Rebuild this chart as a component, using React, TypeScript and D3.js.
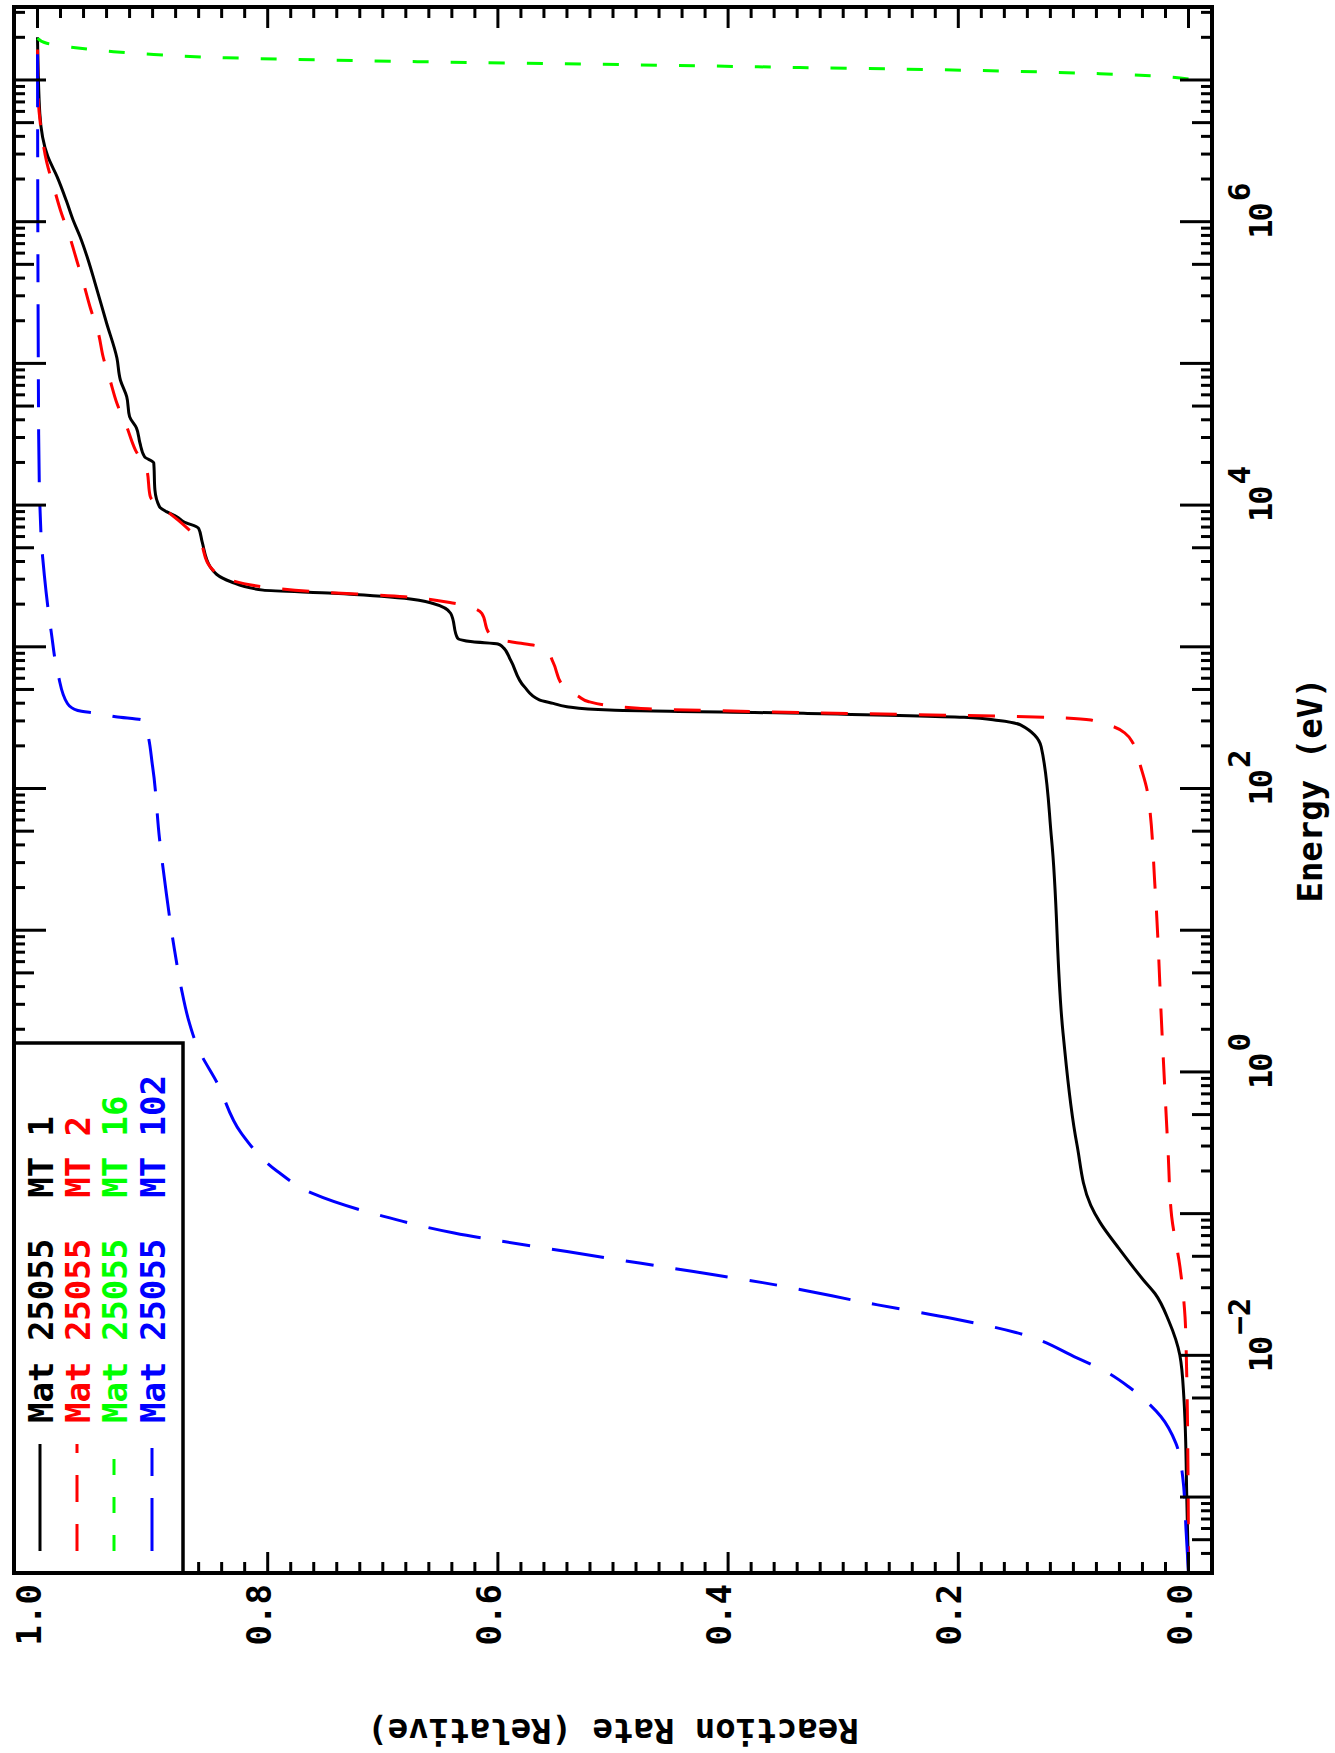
import React from "react";
import * as d3 from "d3";

// ---------- data (energy in eV, cumulative relative reaction rate) ----------
const mt1Energy = [2.9e-4, 1.0e-3, 3.4e-3, 5.0e-3, 1.0e-2, 1.74e-2, 2.72e-2, 3.39e-2, 5.62e-2, 8.71e-2, 0.115, 0.31, 1.88, 44.3, 197, 281, 302, 318, 339, 358, 378, 399, 422, 522, 807, 1000, 1047, 1084, 1148, 1722, 2028, 2198, 2388, 2512, 2877, 3673, 5521, 6855, 7638, 8279, 8995, 9750, 12790, 19820, 21930, 27420, 34990, 42070, 58210, 76380, 109100, 192800, 369000, 537000, 783000, 1.023e6, 1.41e6, 2.08e6, 2.88e6, 5.82e6, 2.0e7];
const mt1Rate = [0, 0.0015, 0.003, 0.004, 0.0075, 0.017, 0.029, 0.039, 0.06, 0.077, 0.085, 0.097, 0.109, 0.119, 0.128, 0.146, 0.165, 0.195, 0.331, 0.503, 0.54, 0.552, 0.564, 0.577, 0.589, 0.596, 0.6, 0.622, 0.635, 0.641, 0.657, 0.681, 0.743, 0.804, 0.832, 0.85, 0.857, 0.86, 0.873, 0.879, 0.888, 0.894, 0.898, 0.899, 0.907, 0.911, 0.914, 0.92, 0.9225, 0.928, 0.931, 0.94, 0.95, 0.956, 0.963, 0.969, 0.975, 0.983, 0.991, 0.998, 1.0];

const mt2Energy = [2.9e-4, 1.38e-3, 8.3e-3, 1.86e-2, 4.2e-2, 9.5e-2, 0.28, 1.88, 19.6, 92.7, 143, 208, 245, 273, 294, 304, 318, 343, 368, 410, 447, 525, 776, 955, 1023, 1072, 1148, 1259, 1722, 2028, 2254, 2455, 2951, 3673, 5675, 7482, 8995, 11480, 17700, 24550, 35730, 52240, 76380, 111400, 162200, 244900, 367300, 537000, 783000, 1.2e6, 1.77e6, 2.63e6, 3.98e6, 7.94e6, 2.0e7];
const mt2Rate = [0, 0.0004, 0.0017, 0.003, 0.0074, 0.0146, 0.0178, 0.023, 0.029, 0.0355, 0.0416, 0.048, 0.055, 0.065, 0.0786, 0.0847, 0.1216, 0.331, 0.478, 0.521, 0.53, 0.543, 0.552, 0.558, 0.568, 0.585, 0.603, 0.608, 0.614, 0.638, 0.681, 0.761, 0.832, 0.85, 0.86, 0.875, 0.887, 0.902, 0.905, 0.915, 0.9225, 0.931, 0.937, 0.943, 0.947, 0.954, 0.96, 0.966, 0.972, 0.98, 0.986, 0.992, 0.996, 0.9995, 1.0];

const mt16Energy = [1.016e7, 1.072e7, 1.107e7, 1.159e7, 1.225e7, 1.291e7, 1.346e7, 1.435e7, 1.514e7, 1.585e7, 1.675e7, 1.816e7, 1.968e7];
const mt16Rate = [0, 0.033, 0.077, 0.164, 0.338, 0.511, 0.67, 0.836, 0.899, 0.934, 0.963, 0.992, 1.0];

const mt102Energy = [2.9e-4, 5.6e-4, 1.38e-3, 2.4e-3, 3.7e-3, 4.6e-3, 6.0e-3, 7.6e-3, 9.6e-3, 1.45e-2, 1.82e-2, 2.27e-2, 3.26e-2, 3.9e-2, 5.4e-2, 7.3e-2, 9.6e-2, 0.139, 0.2, 0.37, 0.84, 1.44, 2.36, 3.87, 7.28, 18.0, 44.3, 143, 269, 304, 321, 339, 355, 398, 631, 1259, 3162, 6310, 31620, 2.0e7];
const mt102Rate = [0, 0.002, 0.005, 0.011, 0.024, 0.035, 0.052, 0.071, 0.097, 0.15, 0.205, 0.27, 0.37, 0.43, 0.54, 0.638, 0.7, 0.761, 0.792, 0.823, 0.844, 0.86, 0.869, 0.875, 0.881, 0.888, 0.894, 0.9, 0.906, 0.909, 0.932, 0.948, 0.965, 0.974, 0.982, 0.988, 0.994, 0.997, 0.999, 1.0];

const rateTickValues = [0, 0.2, 0.4, 0.6, 0.8, 1.0];
const rateTickLabels = ["0.0", "0.2", "0.4", "0.6", "0.8", "1.0"];
const energyLabelExponents = [-2, 0, 2, 4, 6];
const legendMat = ["25055", "25055", "25055", "25055"];
const legendMT = ["1", "2", "16", "102"];
const seriesColors = ["#000000", "#ff0000", "#00ff00", "#0000ff"];
const seriesDash = ["none", "27 22", "16 22", "53 22 28 22"];

// ---------- layout ----------
const W = 1335;
const H = 1753;
const FL = 14;
const FR = 1212;
const FT = 7;
const FB = 1573;
const FONT = "'DejaVu Sans Mono', monospace";

export default function App() {
  const yE = d3
    .scaleLog()
    .domain([Math.pow(10, -3.536), Math.pow(10, 7.515)])
    .range([FB, FT]);
  const xR = d3.scaleLinear().domain([0, 1]).range([1188.5, 37.5]);

  const series = [
    { e: mt1Energy, r: mt1Rate },
    { e: mt2Energy, r: mt2Rate },
    { e: mt16Energy, r: mt16Rate },
    { e: mt102Energy, r: mt102Rate },
  ];

  const line = d3
    .line<[number, number]>()
    .x((d) => xR(d[1]))
    .y((d) => yE(d[0]))
    .curve(d3.curveMonotoneY);

  // energy ticks
  const eTicks: { y: number; len: number }[] = [];
  for (let dec = -4; dec <= 7; dec++) {
    for (let m = 1; m <= 9; m++) {
      const v = m * Math.pow(10, dec);
      const y = yE(v);
      if (y > FT + 3 && y < FB - 3) {
        const len = m === 1 ? 32 : m === 5 ? 20 : 11;
        eTicks.push({ y, len });
      }
    }
  }
  // rate ticks
  const rTicks: { x: number; len: number }[] = [];
  for (let i = -2; i <= 52; i++) {
    const v = i * 0.02;
    const x = xR(v);
    if (x > FL + 3 && x < FR - 3) {
      rTicks.push({ x, len: i % 10 === 0 ? 21 : 11 });
    }
  }

  const legendCols = [40, 77, 114, 152];

  return (
    <svg
      width={W}
      height={H}
      style={{ position: "absolute", left: 0, top: 0, background: "#fff" }}
      fontFamily={FONT}
      fontWeight="bold"
    >
      <rect x={0} y={0} width={W} height={H} fill="#fff" />
      <defs>
        <clipPath id="plotclip">
          <rect x={FL} y={FT} width={FR - FL} height={FB - FT} />
        </clipPath>
      </defs>

      {/* curves */}
      <g clipPath="url(#plotclip)">
        {series.map((s, i) => {
          const pts: [number, number][] = s.e.map((e, k) => [e, s.r[k]]);
          return (
            <path
              key={i}
              d={line(pts) || ""}
              fill="none"
              stroke={seriesColors[i]}
              strokeWidth={3}
              strokeDasharray={seriesDash[i]}
            />
          );
        })}
      </g>

      {/* energy ticks on right and left */}
      {eTicks.map((t, i) => (
        <g key={"e" + i} stroke="#000" strokeWidth={3}>
          <line x1={FR} x2={FR - t.len} y1={t.y} y2={t.y} />
          <line x1={FL} x2={FL + t.len} y1={t.y} y2={t.y} />
        </g>
      ))}
      {/* rate ticks on top and bottom */}
      {rTicks.map((t, i) => (
        <g key={"r" + i} stroke="#000" strokeWidth={3}>
          <line x1={t.x} x2={t.x} y1={FT} y2={FT + t.len} />
          <line x1={t.x} x2={t.x} y1={FB} y2={FB - t.len} />
        </g>
      ))}

      {/* legend */}
      <rect x={FL} y={1043} width={183 - FL} height={FB - 1043} fill="#fff" stroke="#000" strokeWidth={3.5} />
      {legendCols.map((cx, i) => (
        <g key={"lg" + i}>
          <line
            x1={cx}
            x2={cx}
            y1={1551}
            y2={1444}
            stroke={seriesColors[i]}
            strokeWidth={3}
            strokeDasharray={seriesDash[i]}
          />
          <text
            transform={`translate(${cx + 13},1423) rotate(-90)`}
            fontSize={34}
            fill={seriesColors[i]}
            style={{ whiteSpace: "pre" }}
          >
            {`Mat ${legendMat[i]}  MT ${legendMT[i]}`}
          </text>
        </g>
      ))}

      {/* frame */}
      <rect x={FL} y={FT} width={FR - FL} height={FB - FT} fill="none" stroke="#000" strokeWidth={4} />

      {/* rate tick labels */}
      {rateTickValues.map((v, i) => (
        <text
          key={"rl" + i}
          transform={`translate(${xR(v) + 3},1584) rotate(-90)`}
          textAnchor="end"
          fontSize={34}
          fill="#000"
        >
          {rateTickLabels[i]}
        </text>
      ))}

      {/* energy tick labels */}
      {energyLabelExponents.map((p, i) => (
        <text
          key={"el" + i}
          transform={`translate(1272,${yE(Math.pow(10, p))}) rotate(-90)`}
          x={-17}
          fontSize={32}
          letterSpacing={-2}
          fill="#000"
        >
          10
          <tspan dy={-22} dx={3} fontSize={31} letterSpacing={0}>
            {p < 0 ? "\u2212" + Math.abs(p) : String(p)}
          </tspan>
        </text>
      ))}

      {/* axis titles */}
      <text transform="translate(1322,790) rotate(-90)" textAnchor="middle" fontSize={34} fill="#000">
        Energy (eV)
      </text>
      <text transform="translate(613,1719) rotate(180)" textAnchor="middle" fontSize={34} fill="#000">
        Reaction Rate (Relative)
      </text>
    </svg>
  );
}
